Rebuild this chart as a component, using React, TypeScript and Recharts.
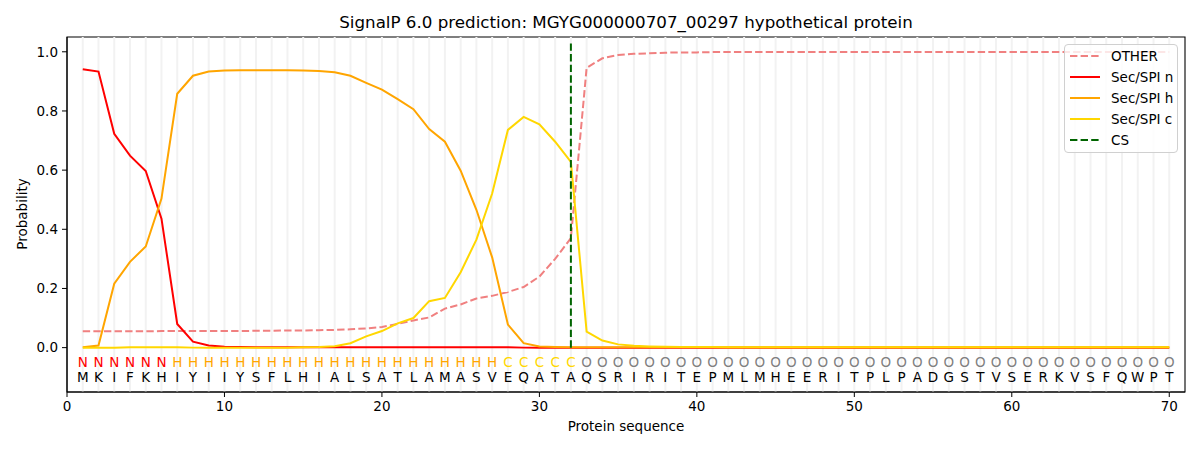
import {
  ComposedChart,
  Line,
  ReferenceArea,
  ReferenceDot,
  ReferenceLine,
  XAxis,
  YAxis,
} from "recharts";

const FONT = "DejaVu Sans, Liberation Sans, sans-serif";

const sequence = "MKIFKHIYIIYSFLHIALSATLAMASVEQATAQSRIRITEPMLMHEERITPLPADGSTVSERKVSFQWPT".split("");

// N = n-region, H = h-region, C = c-region, O = other
const regions = (
  "NNNNNN" +
  "HHHHHHHHHHHHHHHHHHHHH" +
  "CCCCC" +
  "OOOOOOOOOOOOOOOOOOOOOOOOOOOOOOOOOOOOOO"
).split("");

const otherProb = [
  0.055, 0.055, 0.055, 0.055, 0.055, 0.056, 0.056, 0.056, 0.056, 0.056,
  0.056, 0.057, 0.057, 0.058, 0.058, 0.059, 0.06, 0.062, 0.065, 0.07,
  0.08, 0.092, 0.102, 0.132, 0.146, 0.166, 0.175, 0.188, 0.205, 0.24,
  0.3, 0.37, 0.946, 0.978, 0.989, 0.993, 0.995, 0.997, 0.998, 0.998,
  0.999, 0.999, 0.999, 0.999, 0.999, 0.999, 0.999, 0.999, 0.999, 0.999,
  0.999, 0.999, 0.999, 0.999, 0.999, 0.999, 0.999, 0.999, 0.999, 0.999,
  0.999, 0.999, 0.999, 0.999, 0.999, 0.999, 0.999, 0.999, 0.999, 0.999,
];

const secN = [
  0.941, 0.933, 0.723, 0.649, 0.597, 0.436, 0.08, 0.02, 0.007, 0.003,
  0.002, 0.001, 0.001, 0.001, 0.001, 0.001, 0.001, 0.001, 0.001, 0.001,
  0.001, 0.001, 0.001, 0.001, 0.001, 0.001, 0.001, 0.001, 0, 0,
  0, 0, 0, 0, 0, 0, 0, 0, 0, 0,
  0, 0, 0, 0, 0, 0, 0, 0, 0, 0,
  0, 0, 0, 0, 0, 0, 0, 0, 0, 0,
  0, 0, 0, 0, 0, 0, 0, 0, 0, 0,
];

const secH = [
  0.001, 0.007, 0.216, 0.29, 0.342, 0.504, 0.858, 0.919, 0.933, 0.937,
  0.938, 0.938, 0.938, 0.938, 0.937, 0.935, 0.931, 0.919, 0.895, 0.872,
  0.84, 0.806, 0.739, 0.696, 0.598, 0.466, 0.305, 0.078, 0.015, 0.004,
  0.002, 0.001, 0.001, 0.001, 0.001, 0.001, 0.001, 0.001, 0.001, 0.001,
  0.001, 0.001, 0.001, 0.001, 0.001, 0.001, 0.001, 0.001, 0.001, 0.001,
  0.001, 0.001, 0.001, 0.001, 0.001, 0.001, 0.001, 0.001, 0.001, 0.001,
  0.001, 0.001, 0.001, 0.001, 0.001, 0.001, 0.001, 0.001, 0.001, 0.001,
];

const secC = [
  0, 0, 0, 0.001, 0.001, 0.001, 0.001, 0, 0, 0,
  0, 0, 0, 0, 0.001, 0.002, 0.005, 0.015, 0.038, 0.056,
  0.082, 0.1, 0.157, 0.168, 0.255, 0.365, 0.521, 0.736, 0.78, 0.755,
  0.696, 0.628, 0.054, 0.024, 0.011, 0.006, 0.004, 0.003, 0.002, 0.002,
  0.002, 0.001, 0.001, 0.001, 0.001, 0.001, 0.001, 0.001, 0.001, 0.001,
  0.001, 0.001, 0.001, 0.001, 0.001, 0.001, 0.001, 0.001, 0.001, 0.001,
  0.001, 0.001, 0.001, 0.001, 0.001, 0.001, 0.001, 0.001, 0.001, 0.001,
];

const cleavageSite = 32;
const xTicks = [0, 10, 20, 30, 40, 50, 60, 70];
const yTicks = [0, 0.2, 0.4, 0.6, 0.8, 1.0];

const regionColor: Record<string, string> = {
  N: "#ff0000",
  H: "#ffa500",
  C: "#ffd700",
  O: "#808080",
};

const legendItems = [
  { name: "OTHER", color: "#f08080", dashed: true },
  { name: "Sec/SPI n", color: "#ff0000", dashed: false },
  { name: "Sec/SPI h", color: "#ffa500", dashed: false },
  { name: "Sec/SPI c", color: "#ffd700", dashed: false },
  { name: "CS", color: "#006400", dashed: true },
];

const data = sequence.map((aa, i) => ({
  pos: i + 1,
  aa,
  region: regions[i],
  other: otherProb[i],
  n: secN[i],
  h: secH[i],
  c: secC[i],
}));

const letter = (ch: string, color: string) => (props: any) => (
  <text
    x={props.cx}
    y={props.cy}
    textAnchor="middle"
    dominantBaseline="central"
    fill={color}
    fontSize={13.5}
    fontFamily={FONT}
  >
    {ch}
  </text>
);

function Legend() {
  return (
    <div
      style={{
        position: "absolute",
        left: 1064,
        top: 44,
        width: 112,
        height: 107,
        border: "1px solid #d0d0d0",
        borderRadius: 4,
        background: "rgba(255,255,255,0.8)",
        fontFamily: FONT,
        fontSize: 13.5,
      }}
    >
      {legendItems.map((item, i) => (
        <div
          key={item.name}
          style={{
            position: "absolute",
            left: 5,
            top: 1 + i * 21,
            height: 20,
            display: "flex",
            alignItems: "center",
          }}
        >
          <svg width={30} height={4} style={{ marginRight: 11 }}>
            <line
              x1={0}
              y1={2}
              x2={30}
              y2={2}
              stroke={item.color}
              strokeWidth={2}
              strokeDasharray={item.dashed ? "7.4 3.2" : undefined}
            />
          </svg>
          <span>{item.name}</span>
        </div>
      ))}
    </div>
  );
}

export default function App() {
  return (
    <div
      style={{
        position: "absolute",
        left: 0,
        top: 0,
        width: 1200,
        height: 450,
        background: "#fff",
        fontFamily: FONT,
      }}
    >
      <div
        style={{
          position: "absolute",
          left: 67,
          width: 1118,
          top: 12,
          textAlign: "center",
          fontSize: 16.7,
        }}
      >
        SignalP 6.0 prediction: MGYG000000707_00297 hypothetical protein
      </div>
      <div
        style={{
          position: "absolute",
          left: 22,
          top: 214,
          fontSize: 13.5,
          transform: "translate(-50%, -50%) rotate(-90deg)",
          whiteSpace: "nowrap",
        }}
      >
        Probability
      </div>
      <div
        style={{
          position: "absolute",
          left: 67,
          width: 1118,
          top: 418,
          textAlign: "center",
          fontSize: 13.5,
        }}
      >
        Protein sequence
      </div>
      <ComposedChart
        width={1200}
        height={450}
        data={data}
        margin={{ top: 37, right: 15, bottom: 0, left: 0 }}
      >
        <XAxis
          dataKey="pos"
          type="number"
          domain={[0, 71]}
          ticks={xTicks}
          allowDataOverflow
          height={58}
          tickSize={5}
          tickMargin={4}
          stroke="#000"
          tick={{ fill: "#000", fontSize: 13.5, fontFamily: FONT }}
        />
        <YAxis
          type="number"
          domain={[-0.15, 1.05]}
          ticks={yTicks}
          allowDataOverflow
          width={67}
          tickSize={5}
          tickMargin={4}
          stroke="#000"
          tickFormatter={(v: number) => v.toFixed(1)}
          tick={{ fill: "#000", fontSize: 13.5, fontFamily: FONT }}
        />
        {data.map((d) => (
          <ReferenceLine
            key={`g${d.pos}`}
            x={d.pos}
            stroke="#f2f2f2"
            strokeWidth={2}
          />
        ))}
        <Line
          type="linear"
          dataKey="other"
          stroke="#f08080"
          strokeWidth={2}
          strokeDasharray="7.4 3.2"
          dot={false}
          isAnimationActive={false}
        />
        <Line
          type="linear"
          dataKey="n"
          stroke="#ff0000"
          strokeWidth={2}
          dot={false}
          isAnimationActive={false}
        />
        <Line
          type="linear"
          dataKey="h"
          stroke="#ffa500"
          strokeWidth={2}
          dot={false}
          isAnimationActive={false}
        />
        <Line
          type="linear"
          dataKey="c"
          stroke="#ffd700"
          strokeWidth={2}
          dot={false}
          isAnimationActive={false}
        />
        <ReferenceLine
          segment={[
            { x: cleavageSite, y: 0 },
            { x: cleavageSite, y: 1.035 },
          ]}
          stroke="#006400"
          strokeWidth={2}
          strokeDasharray="7.4 3.2"
        />
        {data.map((d) => (
          <ReferenceDot
            key={`r${d.pos}`}
            x={d.pos}
            y={-0.05}
            r={0}
            ifOverflow="visible"
            shape={letter(d.region, regionColor[d.region])}
          />
        ))}
        {data.map((d) => (
          <ReferenceDot
            key={`a${d.pos}`}
            x={d.pos}
            y={-0.1}
            r={0}
            ifOverflow="visible"
            shape={letter(d.aa, "#000")}
          />
        ))}
        <ReferenceArea
          x1={0}
          x2={71}
          y1={-0.15}
          y2={1.05}
          fill="none"
          fillOpacity={0}
          stroke="#000"
          strokeWidth={1.1}
        />
      </ComposedChart>
      <Legend />
    </div>
  );
}
